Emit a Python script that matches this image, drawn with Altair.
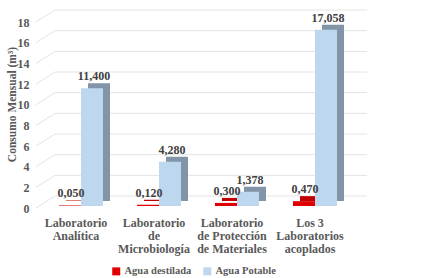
import altair as alt
import pandas as pd

categories = [
    "Laboratorio\nAnalítica",
    "Laboratorio\nde\nMicrobiología",
    "Laboratorio\nde Protección\nde Materiales",
    "Los 3\nLaboratorios\nacoplados",
]
series = ["Agua destilada", "Agua Potable"]
destilada = [0.050, 0.120, 0.300, 0.470]
potable = [11.400, 4.280, 1.378, 17.058]
grid_values = [0, 2, 4, 6, 8, 10, 12, 14, 16, 18]

rows = []
for c, d, p in zip(categories, destilada, potable):
    rows.append({"cat": c, "serie": series[0], "value": d, "label": f"{d:.3f}".replace(".", ",")})
    rows.append({"cat": c, "serie": series[1], "value": p, "label": f"{p:.3f}".replace(".", ",")})
df = pd.DataFrame(rows)
grid_df = pd.DataFrame({"value": grid_values})

FONT = "Liberation Serif"
yscale = alt.Scale(domain=[0, 18], nice=False)

xenc = alt.X(
    "cat:N",
    sort=categories,
    axis=alt.Axis(
        title=None, labelAngle=0, domain=False, ticks=False, tickSize=0, grid=False,
        labelExpr="split(datum.label, '\\n')",
        labelFont=FONT, labelFontWeight="bold", labelFontSize=12, labelColor="#595959",
        labelLineHeight=13, labelPadding=11,
    ),
)
yaxis = alt.Axis(
    values=grid_values, grid=False, ticks=False, domain=False,
    labelFont=FONT, labelFontWeight="bold", labelFontSize=12, labelColor="#595959",
    labelPadding=8, labelOffset=2,
    title="Consumo Mensual (m³)", titleFont=FONT, titleFontWeight="bold", titleFontSize=11.5,
    titleColor="#595959", titleX=-25, titleY=84, titleBaseline="middle", titleAlign="center",
)
yenc = alt.Y("value:Q", scale=yscale, axis=yaxis)
color = alt.Color(
    "serie:N",
    scale=alt.Scale(domain=series, range=["#e00000", "#bdd7ee"]),
    legend=alt.Legend(
        title=None, orient="none", legendX=74, legendY=246, direction="horizontal",
        symbolType="square", symbolSize=64, symbolStrokeWidth=0, labelOffset=3, columnPadding=10,
        labelFont=FONT, labelFontWeight="bold", labelFontSize=10.5, labelColor="#595959",
    ),
)

GRID = "#e4e4e4"
grid = alt.Chart(grid_df).mark_rule(strokeWidth=1, yOffset=-10).encode(
    y=yenc, x=alt.value(18), x2=alt.value(330), color=alt.value(GRID)
)
diag = alt.Chart(grid_df).mark_rule(strokeWidth=1, yOffset=2, y2Offset=-10).encode(
    y=yenc, y2=alt.Y2("value"), x=alt.value(-1), x2=alt.value(18), color=alt.value(GRID)
)

red = alt.Chart(df).transform_filter(alt.datum.serie == series[0])
blue = alt.Chart(df).transform_filter(alt.datum.serie == series[1])

red_shadow = red.mark_bar(width=22, xOffset=1, yOffset=-5, color="#c00000").encode(x=xenc, y=yenc)
blue_shadow = blue.mark_bar(width=22, xOffset=23, yOffset=-5, color="#8194a8").encode(x=xenc, y=yenc)
red_front = red.mark_bar(width=22, xOffset=-6).encode(x=xenc, y=yenc, color=color)
blue_front = blue.mark_bar(width=22, xOffset=16).encode(x=xenc, y=yenc, color=color)

txt_kw = dict(font=FONT, fontWeight="bold", fontSize=12, color="#404040", baseline="alphabetic", dy=-8)
red_txt = red.mark_text(xOffset=-5, **txt_kw).encode(x=xenc, y=yenc, text="label:N")
blue_txt = blue.mark_text(xOffset=18, **txt_kw).encode(x=xenc, y=yenc, text="label:N")

chart = alt.layer(
    grid, diag, red_shadow, blue_shadow, red_front, blue_front, red_txt, blue_txt
).properties(
    width=312, height=186,
    padding={"left": 37, "top": 20, "right": 82, "bottom": 72},
    autosize=alt.AutoSizeParams(type="none"),
).configure_view(stroke=None)

chart.save("out.html", embed_options={"renderer": "svg", "actions": False})
